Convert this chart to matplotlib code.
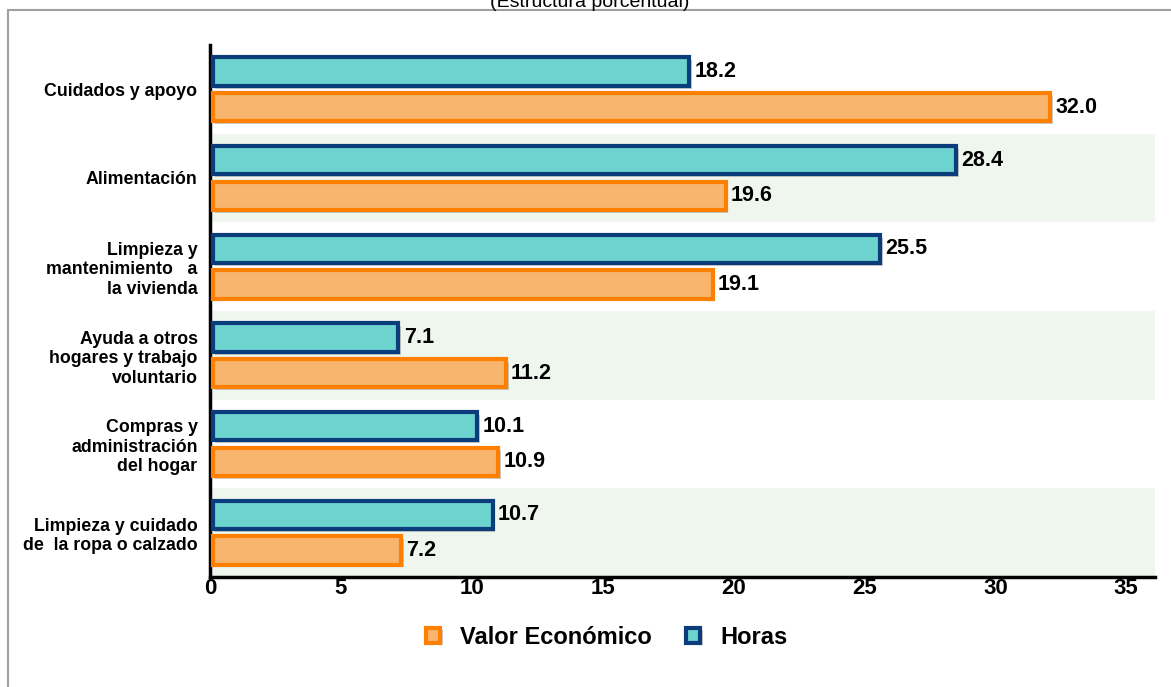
import numpy as np
import matplotlib.pyplot as plt
from matplotlib.patches import Rectangle
import matplotlib.patheffects as pe

# data (top to bottom)
categorias = ["Cuidados y apoyo",
              "Alimentación",
              "Limpieza y\nmantenimiento   a\nla vivienda",
              "Ayuda a otros\nhogares y trabajo\nvoluntario",
              "Compras y\nadministración\ndel hogar",
              "Limpieza y cuidado\nde  la ropa o calzado"]
horas = [18.2, 28.4, 25.5, 7.1, 10.1, 10.7]
valor_economico = [32.0, 19.6, 19.1, 11.2, 10.9, 7.2]
xticks = [0, 5, 10, 15, 20, 25, 30, 35]

plt.rcParams['font.family'] = ['Liberation Sans', 'DejaVu Sans']

fig = plt.figure(figsize=(11.71, 6.87), dpi=100)
ax = fig.add_axes([210/1171, 1-577/687, 945/1171, 532/687])

# outer frame
fig.patches.append(Rectangle((8/1171, -0.1), 1.2, 1-10/687+0.1, transform=fig.transFigure,
                             fill=False, edgecolor='#a0a0a0', linewidth=1.5))
fig.text(0.504, 0.997, "(Estructura porcentual)", ha='center', va='center', fontsize=14)

n = len(categorias)
y = np.arange(n)
h = 0.32
off = 0.2

for i in range(n):
    if i % 2 == 1:
        ax.axhspan(i-0.5, i+0.5, color='#eef6ee', zorder=0, lw=0)

shadow = [pe.SimplePatchShadow(offset=(2, -2), shadow_rgbFace='#999999', alpha=0.5), pe.Normal()]
b1 = ax.barh(y - off, horas, height=h, left=0.1, color='#6dd3cf', edgecolor='#0b3c7c', linewidth=3,
             label='Horas', zorder=3)
b2 = ax.barh(y + off, valor_economico, height=h, left=0.1, color='#f8b56e', edgecolor='#ff7f00',
             linewidth=3, label='Valor Económico', zorder=3)
for b in list(b1) + list(b2):
    b.set_path_effects(shadow)

for yi, v in zip(y - off, horas):
    ax.text(v + 0.3, yi, f"{v:.1f}", va='center', ha='left', fontsize=15.5, fontweight='bold')
for yi, v in zip(y + off, valor_economico):
    ax.text(v + 0.3, yi, f"{v:.1f}", va='center', ha='left', fontsize=15.5, fontweight='bold')

ax.set_ylim(n - 0.5, -0.5)
ax.set_xlim(0, 36.1)
ax.set_yticks(y)
ax.set_yticklabels(categorias, fontsize=12.8, fontweight='bold', linespacing=1.2)
ax.set_xticks(xticks)
ax.set_xticklabels([str(t) for t in xticks], fontsize=16, fontweight='bold')
ax.tick_params(axis='both', length=0)
ax.tick_params(axis='x', pad=1)
ax.tick_params(axis='y', pad=9)
for s in ['top', 'right']:
    ax.spines[s].set_visible(False)
ax.spines['left'].set_linewidth(2.5)
ax.spines['bottom'].set_linewidth(2.5)

handles = [b2, b1]
leg = fig.legend(handles, ['Valor Económico', 'Horas'], loc='center', bbox_to_anchor=(0.518, 1-637/687),
                 ncol=2, frameon=False, handlelength=0.6, handleheight=0.6, handletextpad=0.85,
                 columnspacing=1.45, prop={'size': 17, 'weight': 'bold'})

fig.savefig('out.png', dpi=100)
